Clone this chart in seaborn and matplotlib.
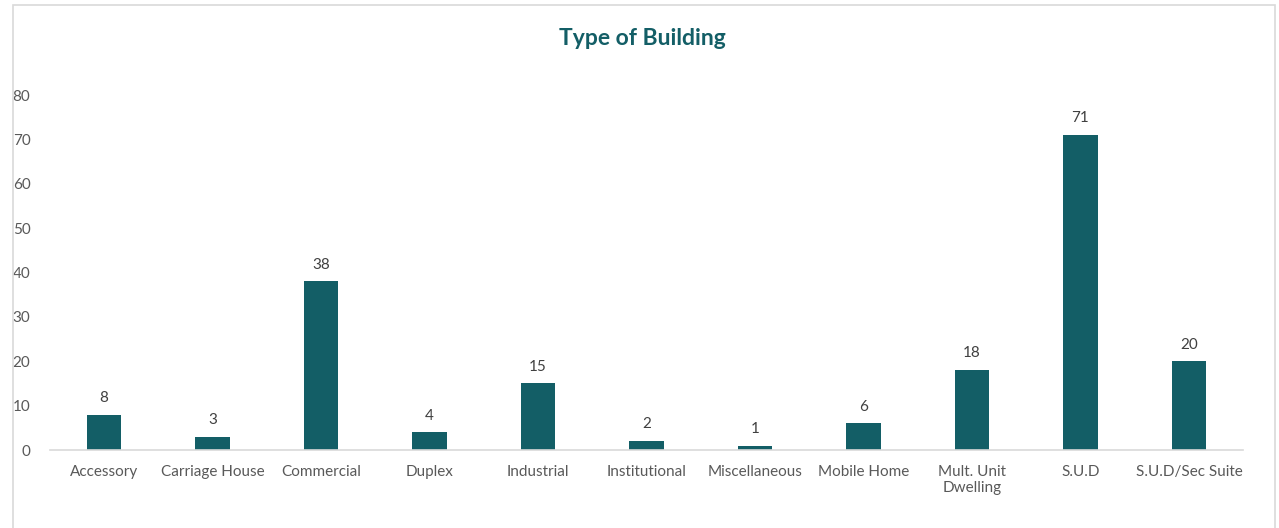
import matplotlib
matplotlib.use('Agg')
import matplotlib.pyplot as plt
import seaborn as sns
import pandas as pd
from matplotlib.patches import Rectangle

categories = ['Accessory', 'Carriage House', 'Commercial', 'Duplex', 'Industrial',
              'Institutional', 'Miscellaneous', 'Mobile Home', 'Mult. Unit\nDwelling',
              'S.U.D', 'S.U.D/Sec Suite']
counts = [8, 3, 38, 4, 15, 2, 1, 6, 18, 71, 20]
y_ticks = [0, 10, 20, 30, 40, 50, 60, 70, 80]

teal = '#135E66'
text_gray = '#595959'

sns.set_theme(style='white')
plt.rcParams['font.family'] = ['Lato', 'DejaVu Sans']

df = pd.DataFrame({'type': categories, 'count': counts})

fig = plt.figure(figsize=(12.79, 5.28), dpi=100)
ax = fig.add_axes([0.039, 0.1477, 0.933, 0.6723])

sns.barplot(data=df, x='type', y='count', color=teal, width=0.32,
            saturation=1, edgecolor='none', linewidth=0, ax=ax)

for i, v in enumerate(counts):
    ax.annotate(str(v), (i, v), xytext=(0, 7), textcoords='offset points',
                ha='center', va='bottom', fontsize=11, color='#404040')

ax.set_ylim(0, 80)
ax.set_yticks(y_ticks)
ax.set_xlim(-0.5, len(categories) - 0.5)
ax.set_xlabel('')
ax.set_ylabel('')
ax.tick_params(axis='y', length=0, pad=14, labelsize=11, labelcolor=text_gray)
ax.tick_params(axis='x', length=0, pad=11, labelsize=11, labelcolor=text_gray)
for s in ['top', 'right', 'left']:
    ax.spines[s].set_visible(False)
ax.spines['bottom'].set_color('#D9D9D9')
ax.spines['bottom'].set_linewidth(1.2)

fig.text(0.502, 0.928, 'Type of Building', ha='center', va='center',
         fontsize=16.5, fontweight='bold', color=teal)

# light chart border
fig.patches.append(Rectangle((13 / 1279, -0.02), 1262 / 1279, 1 - 5 / 528 + 0.02,
                             transform=fig.transFigure, fill=False,
                             edgecolor='#D9D9D9', linewidth=1.2))

fig.savefig('out.png', dpi=100)
